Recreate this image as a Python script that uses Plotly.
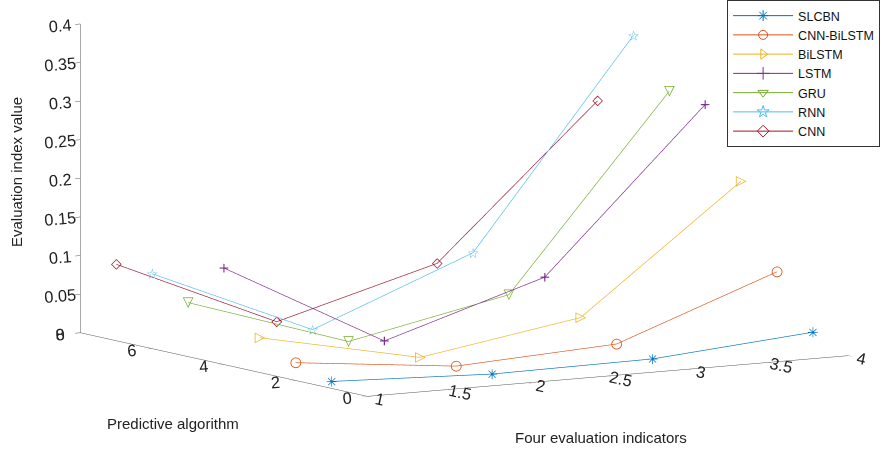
import plotly.graph_objects as go

indicators = [1, 2, 3, 4]
algorithms = ["SLCBN", "CNN-BiLSTM", "BiLSTM", "LSTM", "GRU", "RNN", "CNN"]
algo_index = [1, 2, 3, 4, 5, 6, 7]

slcbn = [0.009, 0.001, 0.003, 0.020]
cnn_bilstm = [0.023, 0.001, 0.012, 0.088]
bilstm = [0.045, 0.002, 0.036, 0.195]
lstm = [0.125, 0.013, 0.078, 0.284]
gru = [0.070, 0.002, 0.045, 0.291]
rnn = [0.097, 0.007, 0.089, 0.353]
cnn = [0.099, 0.007, 0.065, 0.258]
values = [slcbn, cnn_bilstm, bilstm, lstm, gru, rnn, cnn]

colors = ["#0072BD", "#D95319", "#EDB120", "#7E2F8E", "#77AC30", "#4DBEEE", "#A2142F"]
legend_symbols = ["asterisk-open", "circle-open", "triangle-right-open", "cross-thin-open",
                  "triangle-down-open", "star-open", "diamond-open"]
glyphs = ["✳", "○", "▷", "+", "▽", "☆", "◇"]

xticks = [1, 1.5, 2, 2.5, 3, 3.5, 4]
yticks = [0, 2, 4, 6, 8]
zticks = [0, 0.05, 0.1, 0.15, 0.2, 0.25, 0.3, 0.35, 0.4]

fig = go.Figure()
for name, idx, vals, col, g, sym in zip(algorithms, algo_index, values, colors, glyphs, legend_symbols):
    fig.add_trace(go.Scatter3d(
        x=indicators, y=[idx] * len(indicators), z=vals,
        mode="lines+text", text=[g] * len(indicators),
        textposition="middle center",
        textfont=dict(family="DejaVu Sans", size=14, color=col),
        line=dict(color=col, width=1.3),
        showlegend=False, hoverinfo="skip",
    ))
    fig.add_trace(go.Scatter(
        x=[None], y=[None], mode="lines+markers", name=name,
        line=dict(color=col, width=1),
        marker=dict(symbol=sym, size=9, color=col, line=dict(color=col, width=1)),
        xaxis="x", yaxis="y",
    ))

axis_common = dict(showbackground=False, showgrid=False, zeroline=False,
                   showline=True, linecolor="#555555", linewidth=1,
                   ticks="outside", ticklen=6, tickcolor="#555555",
                   tickfont=dict(family="Liberation Sans, Arial", size=14, color="#222222"),
                   showspikes=False, title=dict(text=""))

k = 2.52
cx, cy, cz = -0.076, 0.0465, -0.156
dx, dy, dz = -0.521, -0.843, 0.137
dist = 1.8
fig.update_layout(
    width=889, height=449,
    margin=dict(l=0, r=0, t=0, b=0),
    paper_bgcolor="white", plot_bgcolor="rgba(0,0,0,0)",
    font=dict(family="Liberation Sans, Arial", color="#222222"),
    xaxis=dict(visible=False, domain=[0, 0.01]),
    yaxis=dict(visible=False, domain=[0, 0.01]),
    scene=dict(
        domain=dict(x=[0, 1.0], y=[0, 1.0]),
        xaxis=dict(axis_common, range=[0.9999, 4], tickvals=xticks),
        yaxis=dict(axis_common, range=[0, 8], tickvals=yticks),
        zaxis=dict(axis_common, range=[0, 0.4], tickvals=zticks),
        aspectmode="manual",
        aspectratio=dict(x=1 * k, y=0.965 * k, z=0.551 * k),
        camera=dict(eye=dict(x=cx + dx * dist, y=cy + dy * dist, z=cz + dz * dist),
                    up=dict(x=0, y=0, z=1), center=dict(x=cx, y=cy, z=cz),
                    projection=dict(type="orthographic")),
    ),
    legend=dict(x=0.99, y=1.0, xanchor="right", yanchor="top",
                bordercolor="#333333", borderwidth=1, bgcolor="white",
                font=dict(family="Liberation Sans, Arial", size=12.5, color="#111111"),
                tracegroupgap=0, itemwidth=60),
    annotations=[
        dict(text="Four evaluation indicators", x=601 / 889, y=1 - 437 / 449, xref="paper", yref="paper",
             xanchor="center", yanchor="middle",
             showarrow=False, font=dict(size=15, family="Liberation Sans, Arial")),
        dict(text="Predictive algorithm", x=173 / 889, y=1 - 423 / 449, xref="paper", yref="paper",
             xanchor="center", yanchor="middle",
             showarrow=False, font=dict(size=15, family="Liberation Sans, Arial")),
        dict(text="Evaluation index value", x=16 / 889, y=1 - 172 / 449, xref="paper", yref="paper",
             xanchor="center", yanchor="middle",
             showarrow=False, textangle=-90, font=dict(size=15, family="Liberation Sans, Arial")),
    ],
)

fig.write_html("out.html", config={"displayModeBar": False},
               post_script="document.body.style.margin='0px';")
